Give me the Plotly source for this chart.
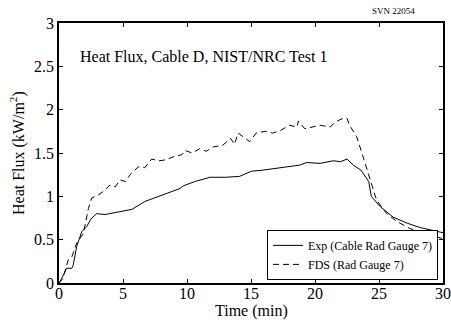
import plotly.graph_objects as go

time_exp = [0, 0.2, 0.6, 1.0, 1.1, 1.38, 1.77, 2.16, 2.5, 2.94, 3.6, 4.3, 4.9, 5.7, 6.7, 8.0,
            9.45, 9.7, 10.6, 11.8, 13.0, 14.1, 15.05, 15.8, 16.7, 17.8, 18.8, 19.35, 20.4,
            21.4, 22.0, 22.5, 23.0, 23.6, 24.2, 24.4, 25.1, 26.1, 27.2, 28.2, 29.2, 30]
hf_exp = [0, 0.05, 0.17, 0.17, 0.2, 0.42, 0.59, 0.65, 0.74, 0.80, 0.79, 0.81, 0.83, 0.85, 0.94, 1.015,
          1.09, 1.12, 1.17, 1.22, 1.22, 1.23, 1.29, 1.30, 1.32, 1.34, 1.36, 1.39, 1.38,
          1.41, 1.40, 1.43, 1.36, 1.30, 1.17, 1.0, 0.88, 0.76, 0.69, 0.64, 0.61, 0.58]

time_fds = [0, 0.3, 0.73, 1.0, 1.38, 1.9, 2.3, 2.55, 3.07, 3.5, 3.98, 4.4, 4.77, 5.2, 5.55, 6.2,
            6.7, 7.24, 7.8, 8.3, 9.0, 9.6, 9.84, 10.4, 11.0, 11.5, 12.05, 12.8, 13.4, 13.7, 14.0,
            14.5, 14.9, 15.4, 16.1, 16.7, 17.3, 18.0, 18.6, 18.7, 19.2, 19.8, 20.4, 21.2, 21.6,
            22.2, 22.5, 22.7, 23.25, 23.6, 24.0, 24.4, 24.8, 25.6, 26.4, 27.4, 28.5, 29.8, 30]
hf_fds = [0, 0.05, 0.27, 0.3, 0.46, 0.57, 0.86, 0.98, 1.015, 1.06, 1.13, 1.11, 1.19, 1.17, 1.25, 1.34,
          1.33, 1.43, 1.41, 1.42, 1.46, 1.48, 1.53, 1.50, 1.55, 1.52, 1.57, 1.59, 1.67, 1.60, 1.73,
          1.68, 1.63, 1.73, 1.75, 1.73, 1.76, 1.82, 1.80, 1.87, 1.78, 1.80, 1.82, 1.80, 1.86,
          1.90, 1.90, 1.82, 1.69, 1.53, 1.34, 1.15, 0.96, 0.80, 0.71, 0.63, 0.57, 0.52, 0.51]

x_ticks = [0, 5, 10, 15, 20, 25, 30]
y_ticks = [0, 0.5, 1, 1.5, 2, 2.5, 3]
y_tick_labels = ["0", "0.5", "1", "1.5", "2", "2.5", "3"]

FONT = "Liberation Serif"

fig = go.Figure()
fig.add_trace(go.Scatter(x=time_exp, y=hf_exp, mode="lines", name="Exp (Cable Rad Gauge 7)",
                         line=dict(color="black", width=1)))
fig.add_trace(go.Scatter(x=time_fds, y=hf_fds, mode="lines", name="FDS (Rad Gauge 7)",
                         line=dict(color="black", width=1, dash="6px,4px")))

axis_common = dict(showgrid=False, zeroline=False, showline=True, linecolor="black", linewidth=1.5,
                   mirror="ticks", ticks="inside", ticklen=4, tickcolor="black", automargin=False,
                   tickfont=dict(family=FONT, size=16, color="black"))

fig.update_layout(
    width=451, height=326,
    margin=dict(l=59, r=8, t=23, b=43),
    paper_bgcolor="white", plot_bgcolor="white",
    font=dict(family=FONT, color="black"),
    xaxis=dict(range=[0, 30], tickvals=x_ticks, ticklabelstandoff=-5, **axis_common),
    yaxis=dict(range=[0, 3], tickvals=y_ticks, ticktext=y_tick_labels, **axis_common),
    showlegend=True,
    legend=dict(x=(438 - 59) / 384, y=0.012, xanchor="right", yanchor="bottom",
                bgcolor="white", bordercolor="black", borderwidth=1,
                font=dict(family=FONT, size=12, color="black"),
                tracegroupgap=0, itemwidth=30),
    annotations=[
        dict(text="Heat Flux, Cable D, NIST/NRC Test 1", xref="paper", yref="paper",
             x=0.05, y=0.87, xanchor="left", yanchor="middle", showarrow=False,
             font=dict(family=FONT, size=16, color="black")),
        dict(text="SVN 22054", xref="paper", yref="paper", x=(417 - 59) / 384, y=(283 - 11) / 260,
             xanchor="right", yanchor="middle", showarrow=False,
             font=dict(family=FONT, size=9, color="black")),
        dict(text="Time (min)", xref="paper", yref="paper", x=0.5, y=(283 - 311) / 260,
             xanchor="center", yanchor="middle", showarrow=False,
             font=dict(family=FONT, size=16, color="black")),
        dict(text="Heat Flux (kW/m<sup>2</sup>)", xref="paper", yref="paper",
             x=(17 - 59) / 384, y=0.5, xanchor="center", yanchor="middle", textangle=-90,
             showarrow=False, font=dict(family=FONT, size=16, color="black")),
    ],
)

fig.write_html("out.html", config={"displayModeBar": False},
               post_script="document.body.style.margin='0';document.body.style.padding='0';")
